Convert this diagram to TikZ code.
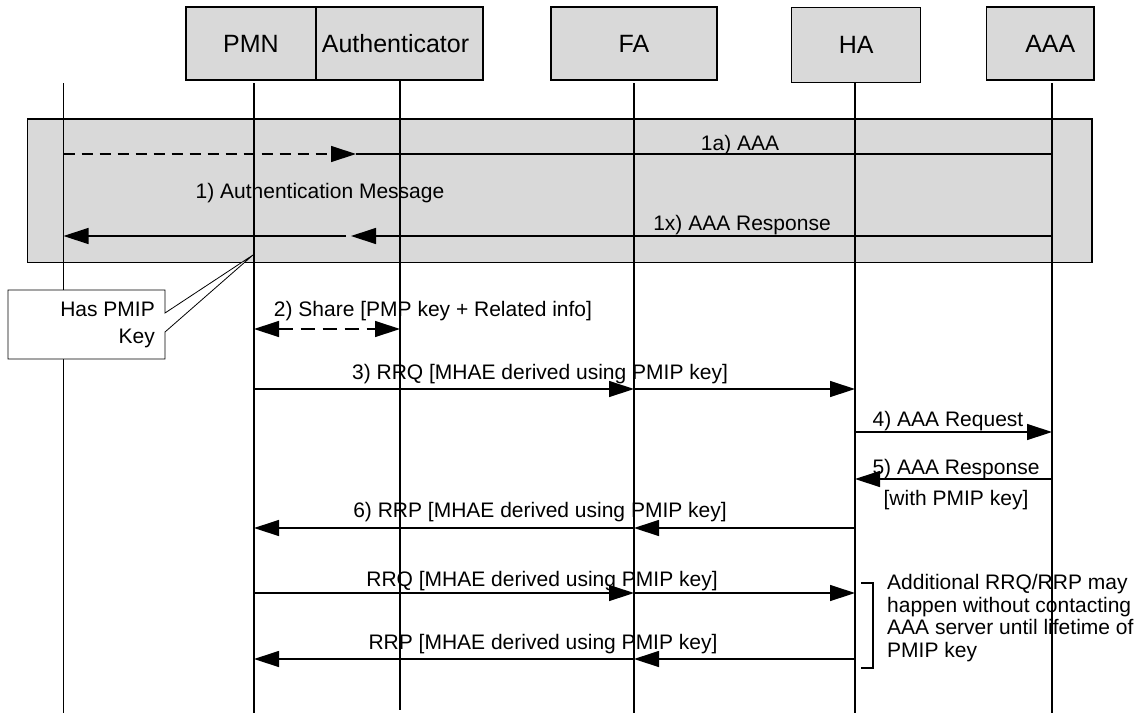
\documentclass[tikz,border=0pt]{standalone}
\usepackage{fontspec}
\setmainfont{Liberation Sans}
\usetikzlibrary{arrows.meta}
\definecolor{boxgrey}{HTML}{D9D9D9}
\begin{document}
\begin{tikzpicture}[x=1pt,y=-1pt,
  actor/.style={draw, line width=1.2pt, fill=boxgrey, inner sep=0pt, font=\fontsize{25}{28}\selectfont},
  life/.style={line width=1.3pt},
  tip/.style={-{Triangle[length=25pt,width=16pt]}},
  msg/.style={line width=1.3pt, tip},
  plain/.style={line width=1.3pt},
  dmsg/.style={line width=1.3pt, tip, dash pattern=on 11pt off 7pt},
  lbl/.style={font=\fontsize{21}{23}\selectfont, inner sep=0pt, anchor=base},
  thin/.style={line width=0.8pt}
]
\useasboundingbox (0,0) rectangle (1145,713);

% group box
\node[draw, fill=boxgrey, line width=1.3pt, inner sep=0pt, minimum width=1064.5pt, minimum height=143.5pt] (grp) at (559.75,190.75) {};

% actor boxes
\node[actor, minimum width=130pt, minimum height=73pt] (pmn) at (251,43.5) {PMN};
\node[actor, minimum width=167pt, minimum height=73pt] (auth) at (399.5,43.5) {\hspace*{-8pt}Authenticator};
\node[actor, minimum width=166pt, minimum height=73pt] (fa) at (634,43.5) {FA};
\node[actor, minimum width=129pt, minimum height=75.5pt] (ha) at (856.2,45) {HA};
\node[actor, minimum width=107.5pt, minimum height=73pt] (aaa) at (1040.3,43.5) {\hspace*{20pt}AAA};

% lifeline ends
\coordinate (mnT) at (63.5,83);  \coordinate (mnB) at (63.5,713);
\coordinate (pmT) at (254,83);   \coordinate (pmB) at (254,713);
\coordinate (auT) at (400,80);   \coordinate (auB) at (400,710);
\coordinate (faT) at (634,83);   \coordinate (faB) at (634,713);
\coordinate (haT) at (855,83);   \coordinate (haB) at (855,713);
\coordinate (aaT) at (1052,83);  \coordinate (aaB) at (1052,713);

\foreach \a/\b in {mnT/mnB, pmT/pmB, auT/auB, faT/faB, haT/haB, aaT/aaB}
  \draw[life] (\a) -- (\b);

% message levels
\coordinate (y1a) at (0,154);
\coordinate (y1x) at (0,236);
\coordinate (y2) at (0,329);
\coordinate (y3) at (0,389);
\coordinate (y4) at (0,432);
\coordinate (y5) at (0,479);
\coordinate (y6) at (0,528);
\coordinate (y7) at (0,593);
\coordinate (y8) at (0,659);
\coordinate (k1) at (356,0);
\coordinate (k2) at (351,0);
\coordinate (k3) at (346,0);

% 1a / 1)
\draw[dmsg] (mnT |- y1a) -- (k1 |- y1a);
\draw[plain] (aaT |- y1a) -- (k1 |- y1a);
\node[lbl] (t1a) at (740,150.5) {1a) AAA};
\node[lbl] (t1) at (320,198.5) {1) Authentication Message};
% 1x
\draw[msg] (aaT |- y1x) -- (k2 |- y1x);
\draw[msg] (k3 |- y1x) -- (mnT |- y1x);
\node[lbl] (t1x) at (742,230.5) {1x) AAA Response};

% 2
\draw[line width=1.3pt, {Triangle[length=25pt,width=16pt]}-{Triangle[length=25pt,width=16pt]}, dash pattern=on 14pt off 8pt] (pmT |- y2) -- (auT |- y2);
\node[lbl] (t2) at (433,316.5) {2) Share [PMP key + Related info]};

% 3
\draw[msg] (pmT |- y3) -- (faT |- y3);
\draw[msg] (faT |- y3) -- (haT |- y3);
\node[lbl] (t3) at (540,379.5) {3) RRQ [MHAE derived using PMIP key]};

% 4
\draw[msg] (haT |- y4) -- (aaT |- y4);
\node[lbl] (t4) at (948,426.5) {4) AAA Request};

% 5
\draw[msg] (aaT |- y5) -- (haT |- y5);
\node[lbl] (t5) at (956,474.5) {5) AAA Response};
\node[lbl] (t5b) at (956,505.5) {[with PMIP key]};

% 6
\draw[msg] (haT |- y6) -- (faT |- y6);
\draw[msg] (faT |- y6) -- (pmT |- y6);
\node[lbl] (t6) at (540,517.5) {6) RRP [MHAE derived using PMIP key]};

% additional RRQ / RRP
\draw[msg] (pmT |- y7) -- (faT |- y7);
\draw[msg] (faT |- y7) -- (haT |- y7);
\node[lbl] (t7) at (542,586.5) {RRQ [MHAE derived using PMIP key]};
\draw[msg] (haT |- y8) -- (faT |- y8);
\draw[msg] (faT |- y8) -- (pmT |- y8);
\node[lbl] (t8) at (543,649.5) {RRP [MHAE derived using PMIP key]};

% callout
\coordinate (cp) at (253,255);
\draw[thin, fill=white] (8,290) -- (165,290) -- (165,313) -- (cp) -- (165,332) -- (165,359) -- (8,359) -- cycle;
\node[font=\fontsize{21}{27}\selectfont, inner sep=0pt, align=right, anchor=north east] (note) at (155,302) {Has PMIP\\Key};

% bracket
\coordinate (bt) at (861,583);
\coordinate (bb) at (861,668);
\draw[line width=1.2pt] (bt) -- ++(12,0) |- (bb);
\node[font=\fontsize{21}{22.6}\selectfont, inner sep=0pt, align=left, anchor=north west] (bnote) at (887,574) {Additional RRQ/RRP may\\happen without contacting\\AAA server until lifetime of\\PMIP key};
\end{tikzpicture}
\end{document}
